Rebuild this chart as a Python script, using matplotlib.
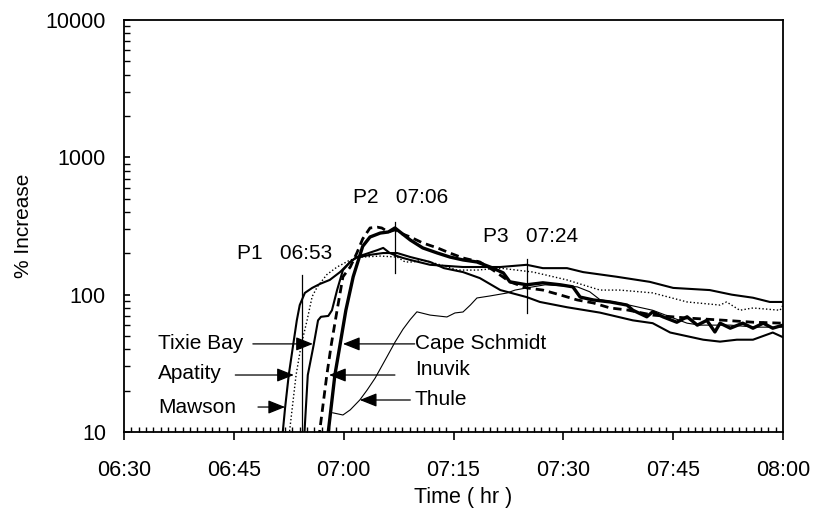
import matplotlib
matplotlib.use("Agg")
import matplotlib.pyplot as plt
from matplotlib.ticker import FixedLocator, FuncFormatter, LogLocator, NullFormatter

plt.rcParams['font.family'] = ['Liberation Sans', 'DejaVu Sans']

# ---- data: minutes after 06:30, % increase ----
t_mawson = [21.6, 22.0, 22.5, 23.1, 23.6, 24.0, 24.7, 25.7, 26.8, 28.1, 29.5, 30.9, 31.6, 33.6,
            35.4, 37.3, 39.1, 41.8, 43.7, 46.3, 48.6, 51.4, 55.0, 56.8, 60.5, 65.0, 69.5, 72.2,
            74.6, 79.1, 81.4, 83.7, 85.9, 88.6, 90.0]
v_mawson = [9, 15, 26, 43, 65, 84, 103, 112, 120, 128, 146, 173, 185, 195,
            201, 201, 188, 173, 156, 146, 132, 108, 96, 88.5, 81, 74, 65, 62,
            53, 47, 45.5, 47, 47, 53, 49]

t_apatity = [22.5, 23.5, 24.2, 25.0, 25.7, 26.4, 27.7, 29.1, 30.9, 32.6, 35.0, 37.3, 38.4, 39.5,
             40.8, 43.2, 45.5, 48.2, 51.4, 55.9, 60.5, 65.0, 67.7, 72.2, 76.9, 81.4, 82.3,
             84.1, 85.9, 89.6, 90.0]
v_apatity = [9, 26, 43, 65, 97, 114, 140, 159, 179, 188, 191, 188, 173, 173,
             179, 165, 151, 151, 156, 146, 128, 108, 108, 103, 88.5, 84, 88.5,
             77, 80, 77, 84]

t_tixie = [24.6, 25.1, 25.9, 26.5, 26.9, 27.9, 28.4, 29.1, 29.9, 30.9, 31.8, 34.6, 35.4, 36.3,
           37.3, 38.1, 39.1, 41.8, 46.3, 51.4, 55.0, 57.2, 60.5, 62.7, 67.3, 71.8, 75.0,
           80.0, 83.0, 85.9, 88.2, 90.0]
v_tixie = [9, 26, 43, 65, 69, 70, 77, 108, 151, 173, 188, 211, 219, 201,
           191, 185, 179, 165, 159, 159, 165, 156, 156, 146, 135, 124, 112,
           108, 100, 95, 88.5, 88.5]

t_inuvik = [26.6, 27.7, 28.3, 29.1, 29.9, 30.9, 31.8, 32.6, 33.6, 34.6, 35.2, 36.1, 37.0, 37.7,
            39.1, 40.8, 42.8, 44.5, 46.3, 48.6, 50.4, 52.7, 55.0, 57.2, 59.6, 61.9, 64.1,
            66.4, 68.7, 72.2, 76.9, 81.4, 85.9, 90.0]
v_inuvik = [9, 26, 43, 77, 135, 159, 201, 255, 306, 310, 306, 286, 296, 281,
            263, 238, 219, 201, 185, 173, 151, 124, 112, 108, 99.5, 91.5, 87,
            80, 77.4, 71, 67.6, 65.4, 63, 62]

t_cape = [27.8, 28.8, 29.5, 30.3, 31.3, 32.6, 33.6, 35.0, 36.1, 37.0, 37.7, 39.1, 40.8, 42.8,
          44.5, 46.3, 48.2, 50.4, 51.8, 52.7, 55.0, 57.2, 59.6, 61.3, 62.3, 64.1, 66.4,
          68.7, 69.5, 71.4, 72.2, 73.6, 75.5, 76.9, 78.3, 79.6, 80.7, 81.4, 82.8, 84.5,
          85.9, 87.3, 88.6, 90.0]
v_cape = [9, 26, 43, 77, 135, 225, 263, 281, 286, 306, 286, 250, 219, 201,
          188, 179, 173, 156, 144, 124, 118, 122, 118, 114, 96, 91.5, 88.5,
          84, 77, 69, 75, 69, 63, 69, 60, 65, 53.5, 62, 57, 62,
          57, 62, 57, 60]

t_thule = [28.5, 29.9, 30.9, 32.2, 33.2, 34.3, 35.9, 37.0, 38.1, 39.1, 40.0, 41.8, 44.1, 45.2,
           46.3, 47.3, 48.2, 50.0, 52.3, 53.4, 55.0, 57.5, 59.6, 61.9, 63.6, 65.0, 67.7,
           72.2, 76.9, 78.7, 82.8, 86.2, 90.0]
v_thule = [13.8, 13.3, 14.5, 17.1, 20.2, 24.7, 35.2, 45, 56, 66, 75, 71, 68.8, 73.6,
           74.8, 84, 94.6, 97.9, 102.8, 108, 112, 118, 116, 114, 105, 92, 87,
           77, 62, 60, 60, 58, 58]

x_tick_labels = ['06:30', '06:45', '07:00', '07:15', '07:30', '07:45', '08:00']
y_tick_values = [10, 100, 1000, 10000]

# peak markers: (label, time label, minute, y-low, y-high)
peaks = [('P1', '06:53', 24.3, 10, 139), ('P2', '07:06', 37.0, 144, 338), ('P3', '07:24', 55.0, 73.6, 182)]
peak_text_pos = [(15.4, 201), (31.3, 514), (49.0, 263)]

fig = plt.figure(figsize=(8.14, 5.14), dpi=100)
ax = fig.add_axes([124/814, 1-432/514, (783-124)/814, (432-20)/514])

ax.plot(t_mawson, v_mawson, color='black', lw=1.5, solid_joinstyle='round')
ax.plot(t_apatity, v_apatity, color='black', lw=1.0, dashes=(1, 1.6))
ax.plot(t_tixie, v_tixie, color='black', lw=1.5)
ax.plot(t_inuvik, v_inuvik, color='black', lw=2.0, dashes=(3, 1.8))
ax.plot(t_cape, v_cape, color='black', lw=2.4)
ax.plot(t_thule, v_thule, color='black', lw=0.8)

ax.set_yscale('log')
ax.set_xlim(0, 90)
ax.set_ylim(10, 10000)

# ticks
ax.xaxis.set_major_locator(FixedLocator([0, 15, 30, 45, 60, 75, 90]))
ax.xaxis.set_major_formatter(FuncFormatter(
    lambda v, p: x_tick_labels[int(round(v / 15))] if 0 <= round(v / 15) < len(x_tick_labels) else ''))
ax.xaxis.set_minor_locator(FixedLocator([m for m in range(0, 91) if m % 15 != 0]))
ax.tick_params(axis='x', which='major', direction='out', length=6, width=1.2, labelsize=15.5, pad=14)
ax.tick_params(axis='x', which='minor', direction='in', length=3.5, width=1.0)
ax.yaxis.set_major_locator(FixedLocator(y_tick_values))
ax.yaxis.set_major_formatter(FuncFormatter(lambda v, p: '%d' % v))
ax.yaxis.set_minor_locator(LogLocator(base=10, subs=range(2, 10)))
ax.yaxis.set_minor_formatter(NullFormatter())
ax.tick_params(axis='y', which='major', direction='in', length=4, width=1.2, labelsize=15.5, pad=13)
ax.tick_params(axis='y', which='minor', direction='in', length=4, width=1.0)
for s in ax.spines.values():
    s.set_linewidth(1.3)

ax.set_xlabel('Time ( hr )', fontsize=15.5)
ax.xaxis.set_label_coords((463 - 124) / (783 - 124), -(487 - 432) / (432 - 20))
ax.set_ylabel('% Increase', fontsize=15, labelpad=9)

# peak lines and labels
for (lab, tl, tm, ylo, yhi), (tx, ty) in zip(peaks, peak_text_pos):
    ax.plot([tm, tm], [ylo, yhi], color='black', lw=0.9)
    ax.text(tx, ty, f'{lab}   {tl}', fontsize=15, ha='left', va='center')

# station labels with arrows: (name, text x, text y, arrow y, arrow start, arrow tip)
labels = [
    ('Tixie Bay', 4.64, 43.8, 43.8, 17.6, 25.8),
    ('Apatity', 4.64, 26.5, 26.0, 15.2, 23.2),
    ('Mawson', 4.64, 15.2, 15.2, 18.3, 22.0),
    ('Cape Schmidt', 39.7, 43.8, 43.8, 39.7, 29.9),
    ('Inuvik', 39.7, 28.3, 26.0, 37.0, 28.0),
    ('Thule', 39.7, 17.3, 17.1, 39.1, 32.2),
]
for name, tx, ty, yv, a0, a1 in labels:
    ax.text(tx, ty, name, fontsize=15, ha='left', va='center')
    ax.annotate('', xy=(a1, yv), xytext=(a0, yv),
                arrowprops=dict(arrowstyle='-|>,head_length=0.8,head_width=0.32', color='black',
                                lw=0.9, shrinkA=0, shrinkB=0, mutation_scale=13))

fig.savefig('out.png', dpi=100)
